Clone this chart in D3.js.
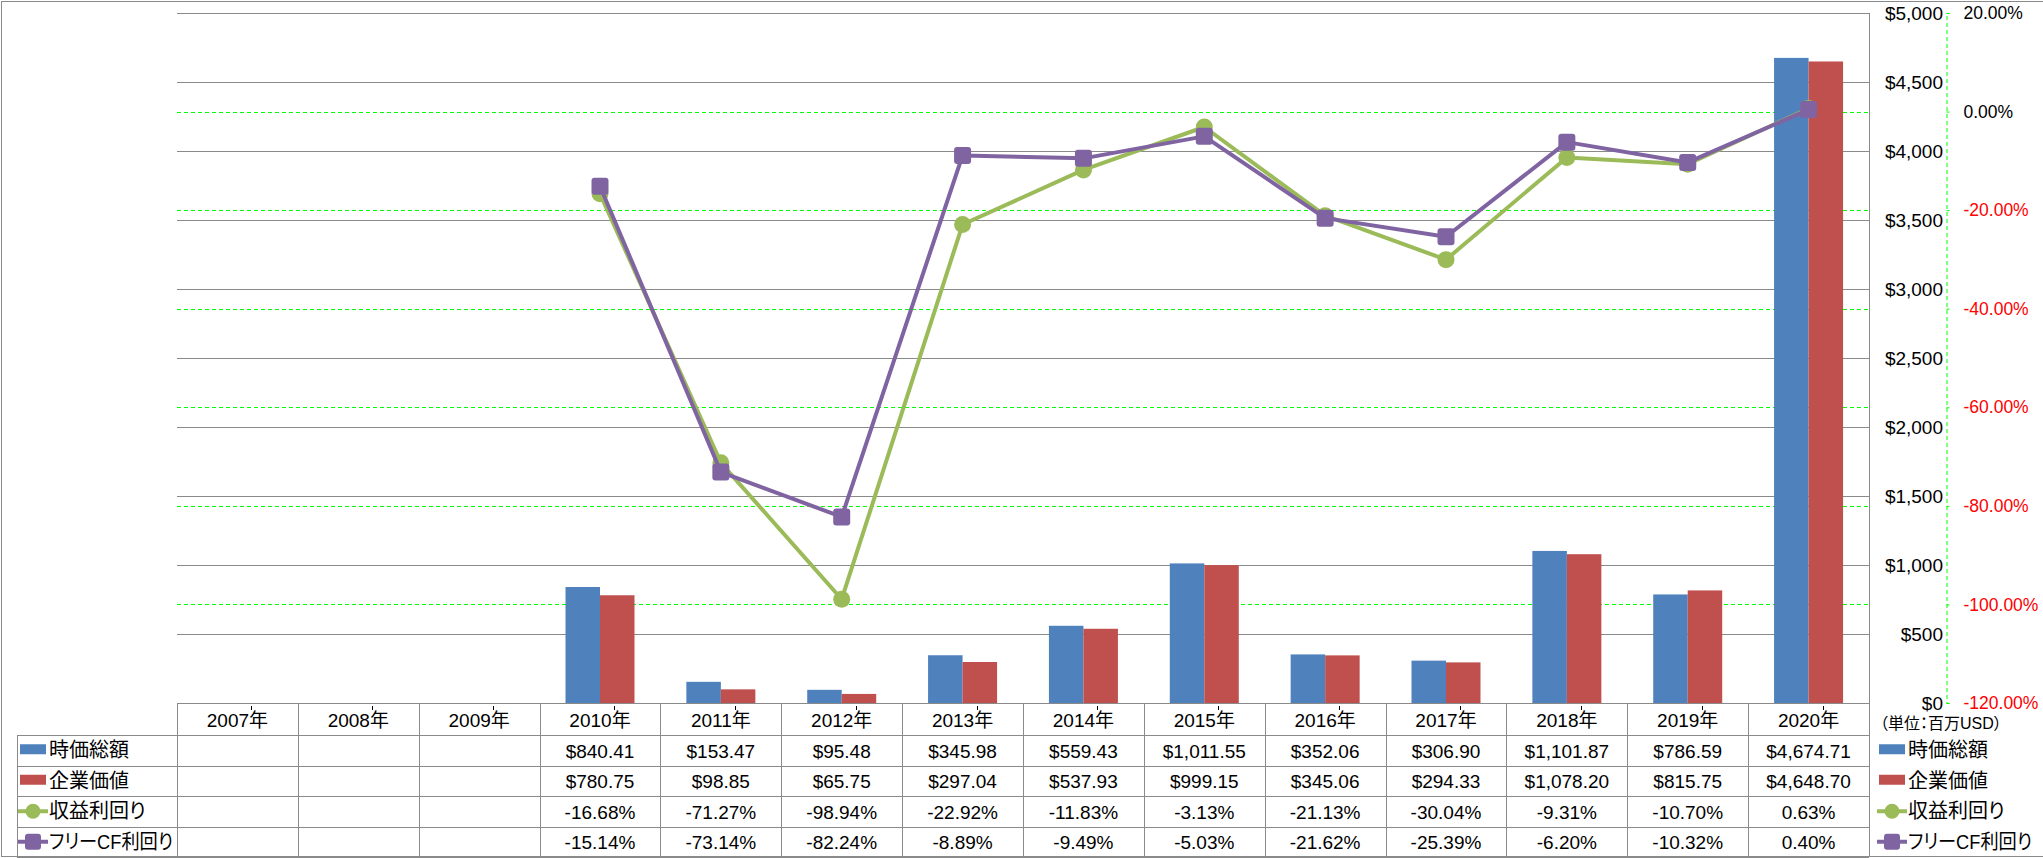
<!DOCTYPE html>
<html>
<head>
<meta charset="utf-8">
<script src="https://cdn.jsdelivr.net/npm/d3@7/dist/d3.min.js"></script>
<style>
  body { margin: 0; background: #fff; }
  svg text { font-family: "Liberation Sans", "Noto Sans CJK JP", sans-serif; fill: #000; }
  .jp { font-feature-settings: "palt"; }
</style>
</head>
<body>
<svg id="chart" width="2043" height="858"></svg>
<script>
// Categories and series (values in million USD / percent)
const years = ['2007年', '2008年', '2009年', '2010年', '2011年', '2012年', '2013年',
  '2014年', '2015年', '2016年', '2017年', '2018年', '2019年', '2020年']
const marketCap = [null, null, null, 840.41, 153.47, 95.48, 345.98, 559.43, 1011.55,
  352.06, 306.90, 1101.87, 786.59, 4674.71]
const enterpriseValue = [null, null, null, 780.75, 98.85, 65.75, 297.04, 537.93, 999.15,
  345.06, 294.33, 1078.20, 815.75, 4648.70]
const earningsYield = [null, null, null, -16.68, -71.27, -98.94, -22.92, -11.83, -3.13,
  -21.13, -30.04, -9.31, -10.70, 0.63]
const fcfYield = [null, null, null, -15.14, -73.14, -82.24, -8.89, -9.49, -5.03,
  -21.62, -25.39, -6.20, -10.32, 0.40]
const moneyTicks = [0, 500, 1000, 1500, 2000, 2500, 3000, 3500, 4000, 4500, 5000]
const pctTicks = [-120, -100, -80, -60, -40, -20, 0, 20]
const seriesNames = ['時価総額', '企業価値', '収益利回り', 'フリーCF利回り']
const unitLabel = '（単位：百万USD）'

// Excel shows a plain hyphen for negatives
d3.formatDefaultLocale({
  decimal: '.', thousands: ',', grouping: [3], currency: ['$', ''], minus: '-',
})

const colors = { mcap: '#4F81BD', ev: '#C0504D', earn: '#9BBB59', fcf: '#8064A2' }
const gridGray = '#8a8a8a'
const numSize = '19px'

// Layout of the plot area and the data table beneath it
const plot = { left: 177, right: 1869, top: 13, bottom: 703 }
const headerBottom = 735
const rowH = 30.5
const tableLeft = 16.5

const svg = d3.select('#chart')

const x = d3.scaleBand().domain(years).range([plot.left, plot.right])
const yMoney = d3.scaleLinear().domain([0, 5000]).range([plot.bottom, plot.top])
const yPct = d3.scaleLinear().domain([-120, 20]).range([plot.bottom, plot.top])
const groupW = 69
const xSeries = d3.scaleBand().domain(['mcap', 'ev']).range([0, groupW])
const cx = (i) => x(years[i]) + x.bandwidth() / 2

// Outer frame
svg.append('rect')
  .attr('x', 1.5).attr('y', 1.5)
  .attr('width', 2080).attr('height', 855)
  .attr('fill', 'none').attr('stroke', gridGray)

// Secondary (percent) gridlines, green dashed
svg.append('g')
  .selectAll('line')
  .data(pctTicks.filter((d) => d > -120 && d < 20))
  .enter()
  .append('line')
  .attr('x1', plot.left).attr('x2', plot.right)
  .attr('y1', (d) => Math.round(yPct(d)) + 0.5)
  .attr('y2', (d) => Math.round(yPct(d)) + 0.5)
  .attr('stroke', '#00ff00')
  .attr('stroke-dasharray', '4,3')

// Primary gridlines
svg.append('g')
  .selectAll('line')
  .data(moneyTicks)
  .enter()
  .append('line')
  .attr('x1', plot.left).attr('x2', plot.right)
  .attr('y1', (d) => Math.round(yMoney(d)) + 0.5)
  .attr('y2', (d) => Math.round(yMoney(d)) + 0.5)
  .attr('stroke', gridGray)

// Plot right border, running down through the table
svg.append('line')
  .attr('x1', plot.right + 0.5).attr('x2', plot.right + 0.5)
  .attr('y1', plot.top).attr('y2', 857)
  .attr('stroke', gridGray)

// Bars
const barData = []
years.forEach((yr, i) => {
  if (marketCap[i] != null) barData.push({ i, key: 'mcap', v: marketCap[i] })
  if (enterpriseValue[i] != null) barData.push({ i, key: 'ev', v: enterpriseValue[i] })
})
svg.append('g')
  .selectAll('rect')
  .data(barData)
  .enter()
  .append('rect')
  .attr('x', (d) => x(years[d.i]) + (x.bandwidth() - groupW) / 2 + xSeries(d.key))
  .attr('y', (d) => yMoney(d.v))
  .attr('width', xSeries.bandwidth())
  .attr('height', (d) => yMoney(0) - yMoney(d.v))
  .attr('fill', (d) => colors[d.key])

// small tick marks under the category axis
svg.append('g')
  .selectAll('line')
  .data(years)
  .enter()
  .append('line')
  .attr('x1', (d, i) => Math.round(cx(i) + 14) + 0.5)
  .attr('x2', (d, i) => Math.round(cx(i) + 14) + 0.5)
  .attr('y1', plot.bottom + 3).attr('y2', plot.bottom + 7)
  .attr('stroke', '#000')

// Lines with markers
const line = d3.line()
  .defined((d) => d.v != null)
  .x((d) => cx(d.i))
  .y((d) => yPct(d.v))

const drawSeries = (values, color, shape) => {
  const pts = values.map((v, i) => ({ i, v }))
  svg.append('path')
    .datum(pts)
    .attr('d', line)
    .attr('fill', 'none')
    .attr('stroke', color)
    .attr('stroke-width', 4)
    .attr('stroke-linejoin', 'round')
  const marks = svg.append('g')
    .selectAll('.m')
    .data(pts.filter((d) => d.v != null))
    .enter()
  if (shape === 'circle') {
    marks.append('circle')
      .attr('cx', (d) => cx(d.i))
      .attr('cy', (d) => yPct(d.v))
      .attr('r', 8.5)
      .attr('fill', color)
  } else {
    marks.append('rect')
      .attr('x', (d) => cx(d.i) - 8.5)
      .attr('y', (d) => yPct(d.v) - 8.5)
      .attr('width', 17).attr('height', 17)
      .attr('rx', 3)
      .attr('fill', color)
  }
}
drawSeries(earningsYield, colors.earn, 'circle')
drawSeries(fcfYield, colors.fcf, 'square')

// Primary axis labels ($), placed right of the plot
const moneyAxis = svg.append('g')
  .attr('transform', 'translate(1945,0)')
  .call(d3.axisLeft(yMoney).tickValues(moneyTicks).tickFormat(d3.format('$,')).tickSize(0).tickPadding(2))
moneyAxis.select('.domain').remove()
moneyAxis.selectAll('text').style('font-size', numSize)

// Secondary axis (percent), green dashed
const pctAxis = svg.append('g')
  .attr('transform', 'translate(1946.5,0)')
  .call(d3.axisRight(yPct).tickValues(pctTicks)
    .tickFormat((d) => d3.format('.2f')(d) + '%').tickSize(3).tickPadding(14))
pctAxis.select('.domain')
  .attr('stroke', '#00ff00')
  .attr('stroke-dasharray', '4,3')
pctAxis.selectAll('.tick line').attr('stroke', '#00ff00')
pctAxis.selectAll('text')
  .style('font-size', '17.5px')
  .style('fill', (d) => (d < 0 ? '#ff0000' : '#000'))

// Unit label
svg.append('text')
  .attr('class', 'jp')
  .attr('x', 1880).attr('y', 723)
  .attr('dominant-baseline', 'central')
  .style('font-size', '16px')
  .text(unitLabel)

// Data table
const table = svg.append('g').attr('stroke', gridGray).attr('shape-rendering', 'crispEdges')
const rowYs = d3.range(5).map((k) => headerBottom + k * rowH)
table.selectAll('.h')
  .data(rowYs)
  .enter()
  .append('line')
  .attr('x1', tableLeft).attr('x2', plot.right)
  .attr('y1', (d) => Math.round(d) + 0.5).attr('y2', (d) => Math.round(d) + 0.5)
table.append('line')
  .attr('x1', tableLeft + 0.5).attr('x2', tableLeft + 0.5)
  .attr('y1', headerBottom).attr('y2', 857)
table.selectAll('.v')
  .data(years)
  .enter()
  .append('line')
  .attr('x1', (d) => Math.round(x(d)) + 0.5).attr('x2', (d) => Math.round(x(d)) + 0.5)
  .attr('y1', plot.bottom).attr('y2', 857)

// header years
svg.append('g')
  .selectAll('text')
  .data(years)
  .enter()
  .append('text')
  .attr('x', (d, i) => cx(i))
  .attr('y', (plot.bottom + headerBottom) / 2 + 1)
  .attr('text-anchor', 'middle')
  .attr('dominant-baseline', 'central')
  .style('font-size', numSize)
  .text((d) => d)

const money = d3.format('$,.2f')
const pct = (v) => d3.format('.2f')(v) + '%'
const rows = [
  marketCap.map((v) => (v == null ? '' : money(v))),
  enterpriseValue.map((v) => (v == null ? '' : money(v))),
  earningsYield.map((v) => (v == null ? '' : pct(v))),
  fcfYield.map((v) => (v == null ? '' : pct(v))),
]
rows.forEach((cells, r) => {
  svg.append('g')
    .selectAll('text')
    .data(cells)
    .enter()
    .append('text')
    .attr('x', (d, i) => cx(i))
    .attr('y', headerBottom + rowH * (r + 0.5) + 1)
    .attr('text-anchor', 'middle')
    .attr('dominant-baseline', 'central')
    .style('font-size', numSize)
    .text((d) => d)
})

// Legend keys, once in the table and once on the right
const keyTypes = ['mcap', 'ev', 'earn', 'fcf']
const drawLegend = (x0) => {
  keyTypes.forEach((k, r) => {
    const yc = headerBottom + rowH * (r + 0.5)
    const g = svg.append('g')
    if (k === 'mcap' || k === 'ev') {
      g.append('rect')
        .attr('x', x0).attr('y', yc - 6)
        .attr('width', 26).attr('height', 10)
        .attr('fill', colors[k])
    } else {
      g.append('line')
        .attr('x1', x0 - 2).attr('x2', x0 + 28)
        .attr('y1', yc).attr('y2', yc)
        .attr('stroke', colors[k]).attr('stroke-width', 4)
      if (k === 'earn') {
        g.append('circle').attr('cx', x0 + 13).attr('cy', yc).attr('r', 7.5).attr('fill', colors[k])
      } else {
        g.append('rect')
          .attr('x', x0 + 5).attr('y', yc - 8)
          .attr('width', 16).attr('height', 16).attr('rx', 3)
          .attr('fill', colors[k])
      }
    }
    const t = g.append('text')
      .attr('class', 'jp')
      .attr('x', x0 + 29).attr('y', yc)
      .attr('dominant-baseline', 'central')
      .style('font-size', '20px')
      .text(seriesNames[r])
    // the last label is set narrower in the original
    if (r === 3) t.attr('textLength', 124).attr('lengthAdjust', 'spacingAndGlyphs')
  })
}
drawLegend(20)
drawLegend(1879)
</script>
</body>
</html>
